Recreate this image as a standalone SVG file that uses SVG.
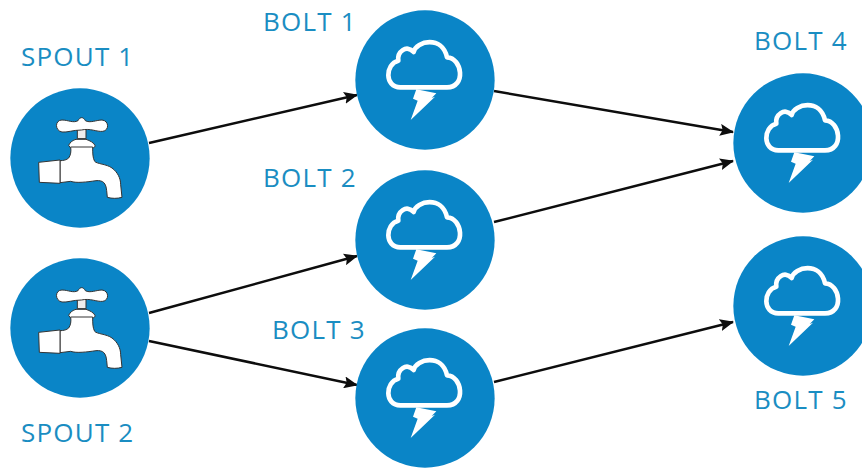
<svg xmlns="http://www.w3.org/2000/svg" width="862" height="468" viewBox="0 0 862 468">
<style>
.bg{fill:#0a85c7}
.lbl{font-family:"Open Sans","Noto Sans",sans-serif;font-size:26px;letter-spacing:1.2px;fill:#1a8dc2}
.c{stroke:#0d0d0d;stroke-width:2.5;fill:none;marker-end:url(#arr)}
.w{fill:#fff;stroke:#333;stroke-width:3;stroke-linejoin:round}
</style>
<defs>
<marker id="arr" viewBox="0 0 14 12" refX="13" refY="6" markerWidth="14" markerHeight="12" markerUnits="userSpaceOnUse" orient="auto"><path d="M0 0L14 6L0 12L2.5 6Z" fill="#0d0d0d"/></marker>
<g id="faucet" transform="scale(.3333)">
<circle class="bg" r="209"/>
<path d="M-8 -88L-8 -58L18 -58L18 -88Z" fill="#eee" stroke="#333" stroke-width="3"/>
<path d="M-54 -114C-36 -114 -20 -104 -6 -112C0 -124 10 -124 16 -112C30 -104 50 -114 66 -114C88 -112 88 -82 68 -80C50 -78 32 -90 4 -84C-20 -84 -40 -76 -54 -78C-76 -82 -76 -114 -54 -114Z" class="w"/>
<path class="w" d="M-34 -38C-30 -48 -20 -54 -12 -56L18 -56C30 -52 42 -46 46 -36L40 -30L-28 -30Z"/>
<path class="w" d="M-28 -33L38 -33C38 -16 38 0 44 10C50 18 80 18 96 30C112 42 122 60 122 80L126 118C112 122 96 122 82 118L80 98C78 76 70 66 48 68C20 72 -10 76 -28 70L-60 74L-60 8C-50 8 -40 6 -34 0C-28 -8 -26 -20 -28 -33Z"/>
<path class="w" d="M-124 13L-60 6L-60 76L-122 73Z"/>
</g>
<g id="cloud" transform="scale(.3333)">
<circle class="bg" r="209"/>
<path d="M-74 22C-122 22 -120 -48 -80 -58C-84 -84 -56 -108 -34 -84C-26 -118 52 -134 66 -68C112 -66 124 22 66 22Z" fill="none" stroke="#fff" stroke-width="14" stroke-linejoin="round"/>
<path d="M-26 28L34 40L20 54L30 50L-43 120L-22 62L-36 56Z" fill="#fff"/>
</g>
</defs>
<rect width="862" height="468" fill="#fff"/>
<g id="connectors">
<line class="c" x1="149" y1="143" x2="357" y2="95"/>
<line class="c" x1="149" y1="313" x2="357" y2="256"/>
<line class="c" x1="149" y1="341" x2="357" y2="385"/>
<line class="c" x1="494" y1="91" x2="733" y2="132"/>
<line class="c" x1="494" y1="222" x2="733" y2="161"/>
<line class="c" x1="494" y1="382" x2="733" y2="322"/>
</g>
<g id="spout1"><use href="#faucet" transform="translate(80 158)"/><text class="lbl" x="21" y="66">SPOUT 1</text></g>
<g id="spout2"><use href="#faucet" transform="translate(80 328)"/><text class="lbl" x="21" y="442">SPOUT 2</text></g>
<g id="bolt1"><use href="#cloud" transform="translate(425 80)"/><text class="lbl" x="263" y="31">BOLT 1</text></g>
<g id="bolt2"><use href="#cloud" transform="translate(425 240)"/><text class="lbl" x="263" y="187">BOLT 2</text></g>
<g id="bolt3"><use href="#cloud" transform="translate(425 398)"/><text class="lbl" x="272" y="339">BOLT 3</text></g>
<g id="bolt4"><use href="#cloud" transform="translate(803 143)"/><text class="lbl" x="754" y="50">BOLT 4</text></g>
<g id="bolt5"><use href="#cloud" transform="translate(803 306)"/><text class="lbl" x="754" y="409">BOLT 5</text></g>
</svg>
